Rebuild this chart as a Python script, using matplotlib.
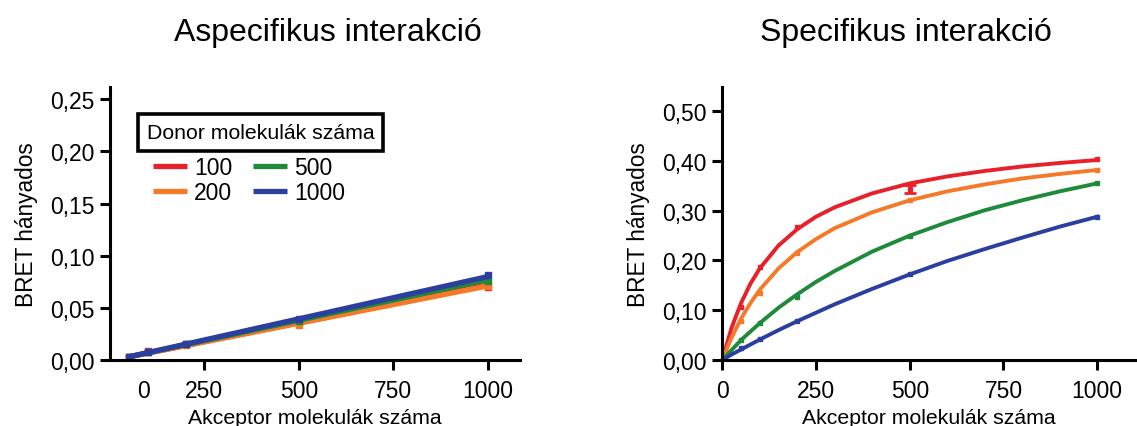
import numpy as np
import matplotlib
matplotlib.use("Agg")
import matplotlib.pyplot as plt

plt.rcParams['font.family'] = ['Liberation Sans', 'DejaVu Sans']

# donor molecule counts and colours
donors = ["100", "200", "500", "1000"]
colors = ["#e8202a", "#f47a2a", "#1e8a3a", "#2b3f9e"]

# acceptor counts where points were measured
x_points = [50, 100, 200, 500, 1000]

# Aspecifikus interakció - measured points
asp_points = {
    "100": [0.003, 0.009, 0.015, 0.035, 0.070],
    "200": [0.003, 0.008, 0.014, 0.034, 0.071],
    "500": [0.003, 0.008, 0.015, 0.037, 0.076],
    "1000": [0.003, 0.008, 0.015, 0.039, 0.081],
}
# linear fit lines, read at the ends
asp_line_x = [50, 1000]
asp_line = {
    "100": [0.003, 0.072],
    "200": [0.003, 0.071],
    "500": [0.003, 0.077],
    "1000": [0.003, 0.080],
}

# Specifikus interakció - measured points
spec_points = {
    "100": [0.106, 0.187, 0.267, 0.344, 0.405],
    "200": [0.078, 0.135, 0.216, 0.321, 0.382],
    "500": [0.041, 0.074, 0.126, 0.250, 0.355],
    "1000": [0.025, 0.043, 0.078, 0.172, 0.288],
}
# fitted curves
curve_x = [0, 25, 50, 75, 100, 150, 200, 250, 300, 400, 500, 600, 700, 800, 900, 1000]
spec_curve = {
    "100": [0, 0.065, 0.114, 0.153, 0.184, 0.230, 0.263, 0.288, 0.307, 0.335,
            0.355, 0.369, 0.380, 0.389, 0.396, 0.402],
    "200": [0, 0.045, 0.083, 0.114, 0.141, 0.184, 0.217, 0.243, 0.265, 0.297,
            0.321, 0.339, 0.353, 0.365, 0.374, 0.382],
    "500": [0, 0.020, 0.040, 0.057, 0.074, 0.105, 0.132, 0.157, 0.179, 0.218,
            0.250, 0.277, 0.301, 0.321, 0.339, 0.355],
    "1000": [0, 0.011, 0.021, 0.031, 0.041, 0.060, 0.078, 0.095, 0.112, 0.143,
             0.172, 0.199, 0.223, 0.246, 0.268, 0.288],
}

left_yticks = [0.00, 0.05, 0.10, 0.15, 0.20, 0.25]
right_yticks = [0.00, 0.10, 0.20, 0.30, 0.40, 0.50]
xticks = [250, 500, 750, 1000]


def style_axis(ax):
    for side in ["top", "right"]:
        ax.spines[side].set_visible(False)
    for side in ["left", "bottom"]:
        ax.spines[side].set_linewidth(2.2)
    ax.tick_params(direction="out", length=7, width=2.2, labelsize=16.5, pad=4)
    ax.tick_params(axis="x", pad=7)
    ax.set_xlabel("Akceptor molekulák száma", fontsize=15.3, labelpad=4)
    ax.set_ylabel("BRET hányados", fontsize=16.3, labelpad=9)


fig = plt.figure(figsize=(11.37, 4.27), dpi=100)
ax1 = fig.add_axes([0.0967, 0.1546, 0.3606, 0.6388])
ax2 = fig.add_axes([0.6352, 0.1546, 0.3628, 0.6384])

# left panel
handles = []
for name, c in zip(donors, colors):
    h, = ax1.plot(asp_line_x, asp_line[name], color=c, lw=3.8, solid_capstyle="butt")
    ax1.plot(x_points, asp_points[name], "s", color=c, ms=4)
    handles.append(h)
ax1.set_xlim(0, 1085)
ax1.set_ylim(0, 0.2615)
ax1.set_yticks(left_yticks)
ax1.set_yticklabels([f"{v:.2f}".replace(".", ",") for v in left_yticks])
ax1.set_xticks(xticks)
ax1.set_xticklabels([str(v) for v in xticks])
style_axis(ax1)
# the "0" label sits off its tick in the original, so it gets a bare minor tick
ax1.set_xticks([90], minor=True)
ax1.set_xticklabels(["0"], minor=True)
ax1.tick_params(axis="x", which="minor", length=0, pad=14, labelsize=16.5)
ax1.set_title("Aspecifikus interakció", fontsize=23, pad=34, x=0.532)

ax1.text(0.09, 0.833, "Donor molekulák száma", transform=ax1.transAxes, fontsize=15.3,
         ha="left", va="center",
         bbox=dict(boxstyle="square,pad=0.42", fc="white", ec="black", lw=2.6))
leg = ax1.legend(handles, donors, ncol=2, frameon=False, fontsize=16.5,
                 loc="upper left", bbox_to_anchor=(0.105, 0.748),
                 handlelength=1.5, handletextpad=0.3, columnspacing=0.9,
                 labelspacing=0.1, borderaxespad=0, borderpad=0)

# right panel
for name, c in zip(donors, colors):
    ax2.plot(curve_x, spec_curve[name], color=c, lw=2.8)
    ax2.plot(x_points, spec_points[name], "s", color=c, ms=3.5)
ax2.errorbar([500], [spec_points["100"][3]], yerr=[0.008], color=colors[0],
             capsize=4, elinewidth=2, capthick=2, fmt="none")
ax2.set_xlim(0, 1100)
ax2.set_ylim(0, 0.548)
ax2.set_yticks(right_yticks)
ax2.set_yticklabels([f"{v:.2f}".replace(".", ",") for v in right_yticks])
ax2.set_xticks([0] + xticks)
ax2.set_xticklabels(["0"] + [str(v) for v in xticks])
style_axis(ax2)
ax2.set_title("Specifikus interakció", fontsize=23, pad=34, x=0.446)

fig.savefig("out.png", dpi=100)
